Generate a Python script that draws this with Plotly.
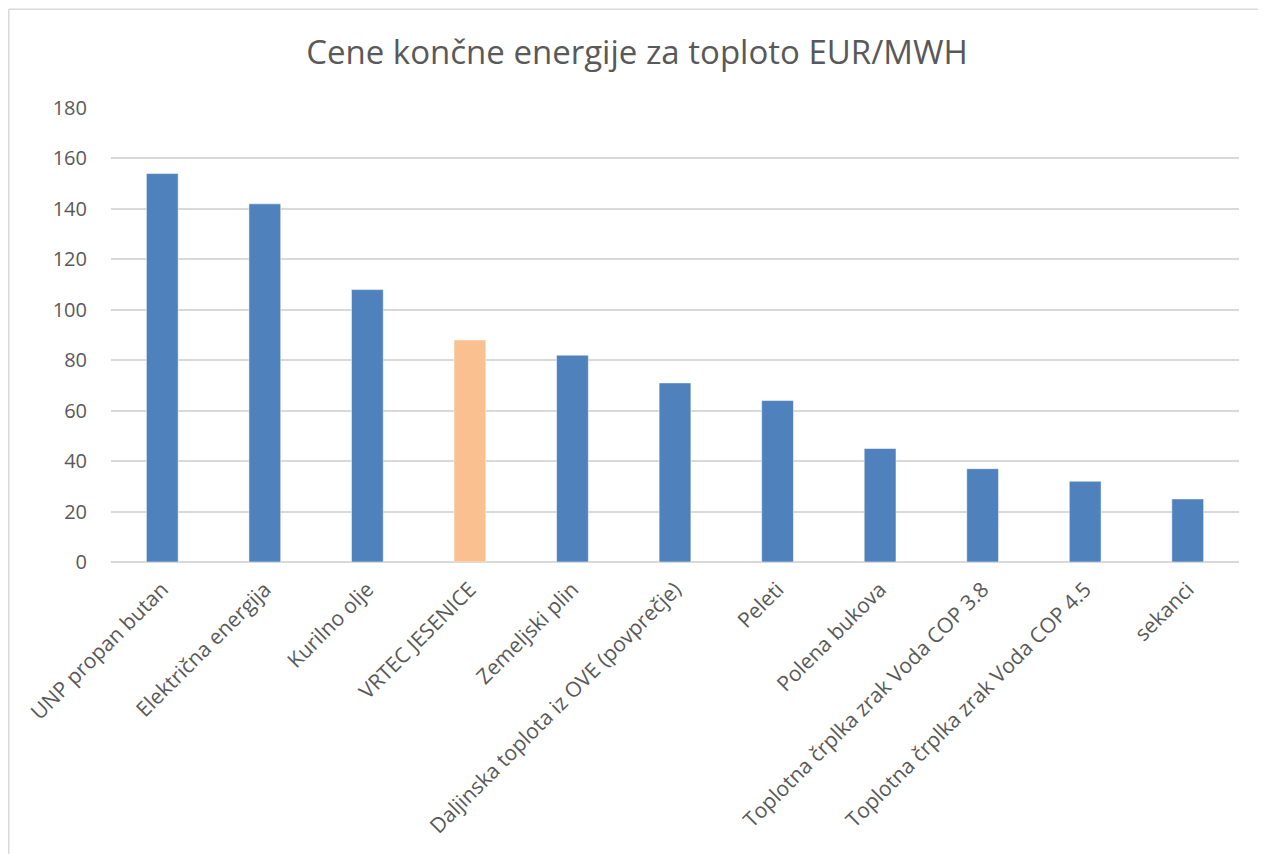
import plotly.graph_objects as go

categories = [
    "UNP propan butan",
    "Električna energija",
    "Kurilno olje",
    "VRTEC JESENICE",
    "Zemeljski plin",
    "Daljinska toplota iz OVE (povprečje)",
    "Peleti",
    "Polena bukova",
    "Toplotna črplka zrak Voda COP 3.8",
    "Toplotna črplka zrak Voda COP 4.5",
    "sekanci",
]
values = [154, 142, 108, 88, 82, 71, 64, 45, 37, 32, 25]
highlight = "VRTEC JESENICE"
y_ticks = [0, 20, 40, 60, 80, 100, 120, 140, 160, 180]

BLUE = "#4F81BD"
ORANGE = "#FAC090"
colors = [ORANGE if c == highlight else BLUE for c in categories]

FONT = "Open Sans"
TEXT = "#595959"

fig = go.Figure(
    go.Bar(
        x=categories,
        y=values,
        marker=dict(color=colors, line=dict(color="rgba(255,255,255,0.5)", width=1)),
        hoverinfo="x+y",
    )
)

# page body has an 8px margin; size the figure so it fits the window
W, H = 1258, 846
L, R, T, B = 103, 27, 100, 292
pw, ph = W - L - R, H - T - B

bx0 = (0.75 - L) / pw
by1 = (H - B - 1.25) / ph
fig.update_layout(
    width=W,
    height=H,
    margin=dict(l=L, r=R, t=T, b=B),
    paper_bgcolor="white",
    plot_bgcolor="white",
    bargap=0.69,
    showlegend=False,
    font=dict(family=FONT, color=TEXT, size=20),
    title=dict(
        text="Cene končne energije za toploto EUR/MWH",
        x=(637 - 8) / W,
        xref="container",
        xanchor="center",
        y=1 - 44 / H,
        yref="container",
        yanchor="middle",
        font=dict(family=FONT, size=33, color=TEXT),
    ),
    xaxis=dict(
        type="category",
        tickangle=-45,
        showgrid=False,
        showline=False,
        ticks="",
        tickfont=dict(family=FONT, size=21, color=TEXT),
        ticklabelstandoff=10,
    ),
    yaxis=dict(
        range=[0, 180],
        tickvals=y_ticks,
        showgrid=True,
        gridcolor="#D9D9D9",
        gridwidth=1.5,
        zeroline=True,
        zerolinecolor="#D9D9D9",
        zerolinewidth=1.5,
        showline=False,
        ticks="",
        tickfont=dict(family=FONT, size=20, color=TEXT),
        ticklabelstandoff=23,
    ),
    shapes=[
        dict(type="line", xref="paper", yref="paper",
             x0=bx0, x1=(W + 20 - L) / pw, y0=by1, y1=by1,
             line=dict(color="#D9D9D9", width=1.5), layer="below"),
        dict(type="line", xref="paper", yref="paper",
             x0=bx0, x1=bx0, y0=by1, y1=(H - B - (H + 20)) / ph,
             line=dict(color="#D9D9D9", width=1.5), layer="below"),
    ],
)

fig.write_html("out.html")
